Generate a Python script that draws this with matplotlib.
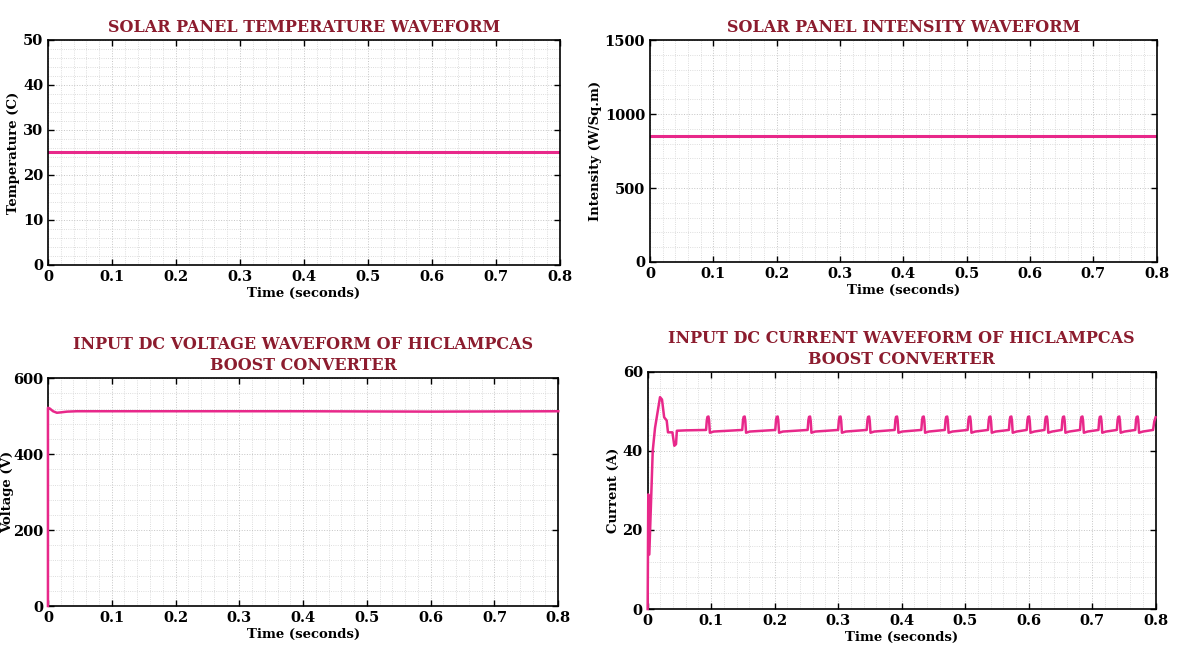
"""Four-panel waveform figure: solar panel inputs and HICLAMPCAS boost converter input."""

import matplotlib
matplotlib.use("Agg")
import matplotlib.pyplot as plt
from matplotlib.ticker import AutoMinorLocator

plt.rcParams["font.family"] = ["DejaVu Serif"]
plt.rcParams["font.weight"] = "bold"

LINE = "#e8288a"
TITLE = "#8c1c2e"

# time axis
x_ticks = [0, 0.1, 0.2, 0.3, 0.4, 0.5, 0.6, 0.7, 0.8]
x_labels = ["0", "0.1", "0.2", "0.3", "0.4", "0.5", "0.6", "0.7", "0.8"]

# solar panel temperature (C), constant
temp_t = [0, 0.8]
temp_v = [25, 25]

# solar panel intensity (W/Sq.m), constant
irr_t = [0, 0.8]
irr_v = [850, 850]

# input dc voltage (V)
volt_t = [0, 0, 0.003, 0.008, 0.014, 0.02, 0.03, 0.045, 0.2, 0.4, 0.6, 0.8]
volt_v = [0, 522, 520, 513, 509, 510, 512, 513, 513, 513, 512, 513]

# input dc current (A): start-up transient
cur_t = [0, 0.001, 0.0026, 0.008, 0.0116, 0.0158, 0.0195, 0.0226, 0.026,
         0.030, 0.032, 0.039, 0.042, 0.0447, 0.046, 0.06, 0.09]
cur_v = [0, 29, 13.8, 40, 45.8, 50, 53.6, 53, 48.5,
         47.7, 44.7, 44.7, 41.3, 41.7, 45.1, 45.2, 45.3]

# ripple spikes that ride on the ~45 A level
spike_times = [0.095, 0.152, 0.204, 0.255, 0.303, 0.348, 0.392, 0.434, 0.471,
               0.507, 0.539, 0.572, 0.600, 0.628, 0.655, 0.684, 0.713, 0.742, 0.771]
spike_offsets = [-0.003, -0.0018, -0.0008, 0.0008, 0.0018, 0.003, 0.009]
spike_levels = [45.3, 47.8, 48.6, 48.7, 47.6, 44.6, 44.9]
end_t = [0.796, 0.798, 0.8]
end_v = [45.3, 47.5, 48.5]

for ts in spike_times:
    for off, lv in zip(spike_offsets, spike_levels):
        cur_t.append(ts + off)
        cur_v.append(lv)
cur_t += end_t
cur_v += end_v


def style(ax, title, ylabel, yticks, xlabel="Time (seconds)", ypad=2):
    ax.set_xlim(0, 0.8)
    ax.set_ylim(yticks[0], yticks[-1])
    ax.set_xticks(x_ticks)
    ax.set_xticklabels(x_labels)
    ax.set_yticks(yticks)
    ax.xaxis.set_minor_locator(AutoMinorLocator(5))
    ax.yaxis.set_minor_locator(AutoMinorLocator(5))
    ax.grid(which="major", color="#c4c4c4", linestyle=":", linewidth=0.7)
    ax.grid(which="minor", color="#d2d2d2", linestyle=":", linewidth=0.6)
    ax.tick_params(which="major", direction="in", top=True, right=True,
                   length=4, width=1, labelsize=10.5)
    ax.tick_params(which="minor", length=0)
    for lab in ax.get_xticklabels() + ax.get_yticklabels():
        lab.set_fontweight("bold")
    for sp in ax.spines.values():
        sp.set_linewidth(1.2)
    ax.set_title(title, color=TITLE, fontsize=11.5, fontweight="bold", pad=6,
                 linespacing=1.3)
    ax.set_ylabel(ylabel, fontsize=9.5, fontweight="bold", labelpad=ypad)
    ax.set_xlabel(xlabel, fontsize=9.5, fontweight="bold", labelpad=2)


fig = plt.figure(figsize=(11.84, 6.7), dpi=100)

ax1 = fig.add_axes([0.0405, 0.6045, 0.4324, 0.3358])
ax1.plot(temp_t, temp_v, color=LINE, linewidth=2.2)
style(ax1, "SOLAR PANEL TEMPERATURE WAVEFORM", "Temperature (C)", [0, 10, 20, 30, 40, 50])

ax2 = fig.add_axes([0.549, 0.609, 0.428, 0.331])
ax2.plot(irr_t, irr_v, color=LINE, linewidth=2.2)
style(ax2, "SOLAR PANEL INTENSITY WAVEFORM", "Intensity (W/Sq.m)", [0, 500, 1000, 1500])

ax3 = fig.add_axes([0.0405, 0.0955, 0.431, 0.340])
ax3.plot(volt_t, volt_v, color=LINE, linewidth=1.8, zorder=3, clip_on=False)
style(ax3, "INPUT DC VOLTAGE WAVEFORM OF HICLAMPCAS\nBOOST CONVERTER", "Voltage (V)",
      [0, 200, 400, 600], ypad=-1)

ax4 = fig.add_axes([0.547, 0.091, 0.429, 0.354])
ax4.plot(cur_t, cur_v, color=LINE, linewidth=1.8, zorder=3, clip_on=False)
style(ax4, "INPUT DC CURRENT WAVEFORM OF HICLAMPCAS\nBOOST CONVERTER", "Current (A)",
      [0, 20, 40, 60])

fig.savefig("out.png", dpi=100)
